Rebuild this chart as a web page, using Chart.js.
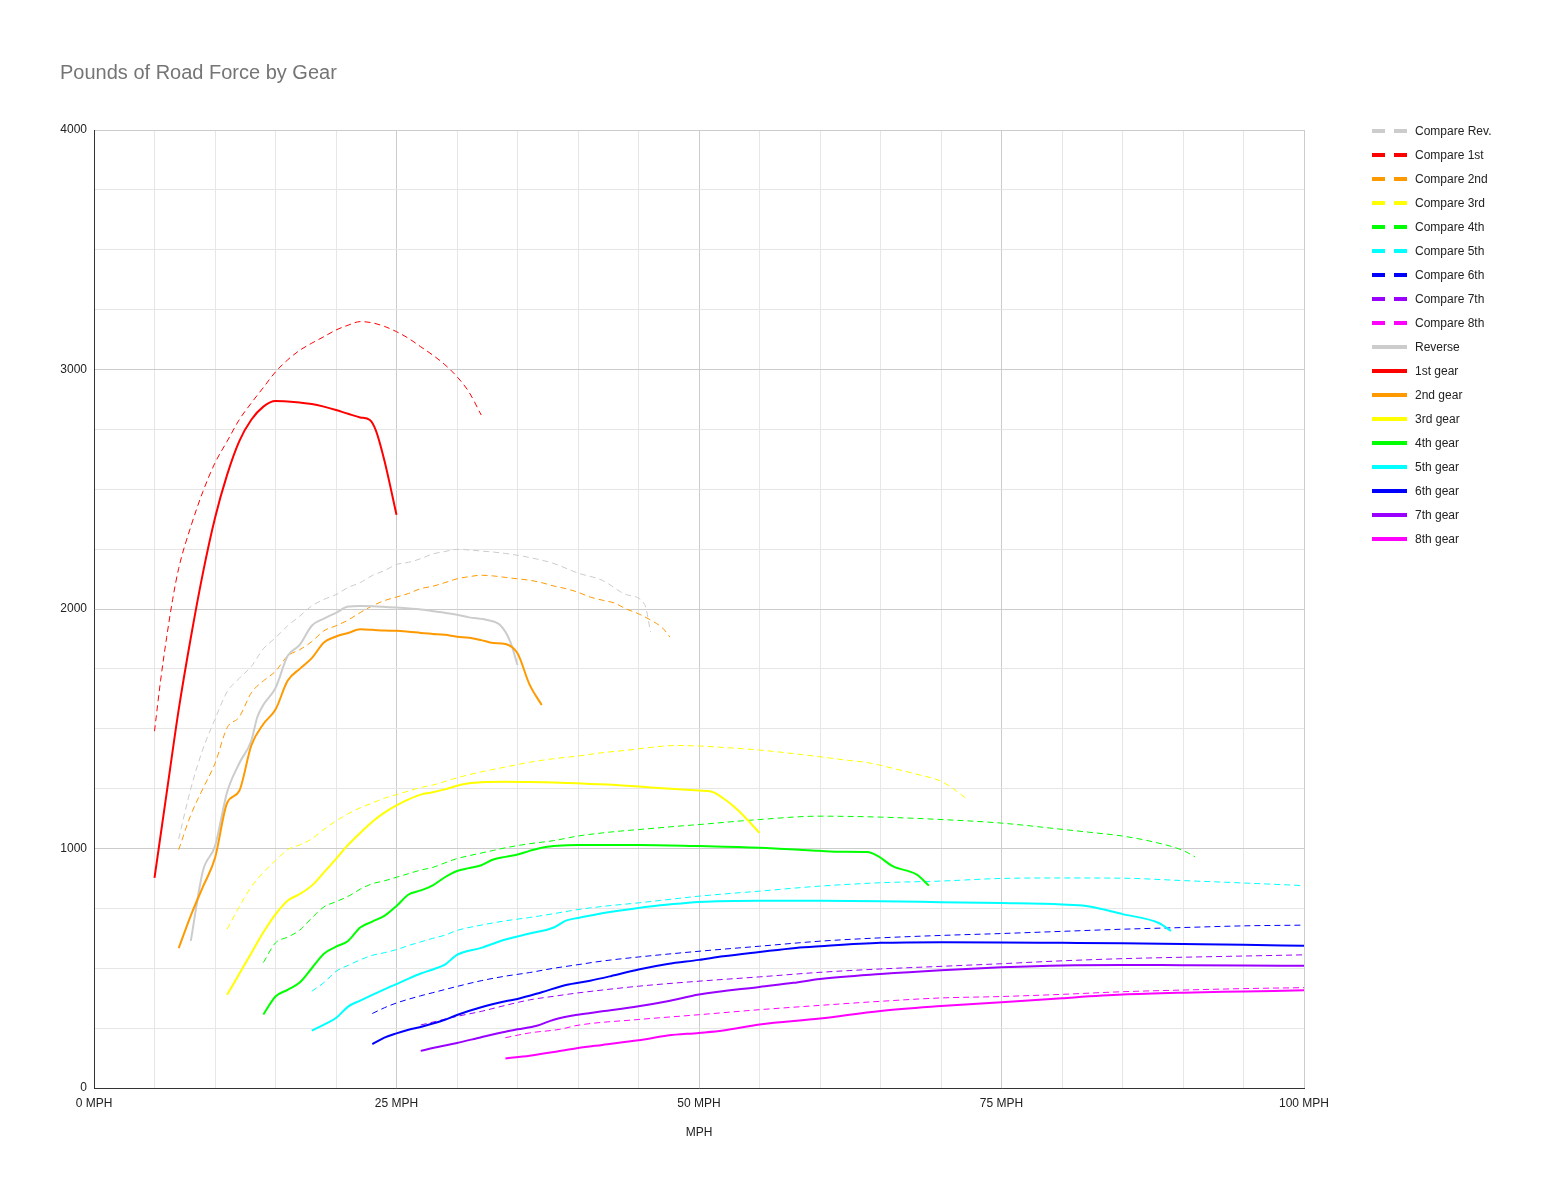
<!DOCTYPE html>
<html>
<head>
<meta charset="utf-8">
<title>Pounds of Road Force by Gear</title>
<script src="https://cdn.jsdelivr.net/npm/chart.js@4/dist/chart.umd.min.js"></script>
<style>
  body { margin: 0; background: #fff; font-family: 'Liberation Sans', Arial, sans-serif; }
  #wrap { position: relative; width: 1554px; height: 1201px; }
  #chart { position: absolute; left: 0; top: 0; }
  #title { position: absolute; left: 60px; top: 61px; font-size: 20px; line-height: 23px; color: #757575; }
  #legend { position: absolute; left: 1372px; top: 119px; font-size: 12px; color: #222; }
  .item { height: 24px; display: flex; align-items: center; white-space: nowrap; }
  .sw { width: 35px; height: 4px; position: relative; margin-right: 8px; }
  .sw span { position: absolute; top: 0; height: 4px; }
</style>
</head>
<body>
<div id="wrap">
  <canvas id="chart" width="1554" height="1201"></canvas>
  <div id="title">Pounds of Road Force by Gear</div>
  <div id="legend"></div>
</div>
<script>
// speeds (MPH) and road force (lbs) per series
const cmpRevMph = [7, 8, 9, 10, 11, 12, 13, 14, 15, 16, 17, 18, 19, 20, 21, 22, 23, 24, 25, 26, 27, 28, 29, 30, 32, 34, 36, 38, 40, 42, 44, 45.5, 46];
const cmpRevLbs = [1040, 1250, 1415, 1540, 1654, 1710, 1760, 1834, 1880, 1930, 1970, 2013, 2040, 2060, 2090, 2110, 2140, 2160, 2186, 2195, 2210, 2230, 2240, 2249, 2242, 2232, 2215, 2190, 2150, 2120, 2060, 2020, 1904];

const cmp1Mph = [5, 5.5, 6, 6.5, 7, 8, 9, 10, 11, 12, 13, 14, 15, 16, 17, 18, 19, 20, 21, 22, 23, 24, 25, 26, 27, 28, 29, 30, 31, 32];
const cmp1Lbs = [1490, 1700, 1880, 2040, 2170, 2344, 2490, 2610, 2700, 2790, 2860, 2925, 2990, 3040, 3080, 3110, 3137, 3165, 3185, 3200, 3195, 3180, 3158, 3130, 3095, 3060, 3020, 2970, 2905, 2810];

const cmp2Mph = [7, 8, 9, 10, 11, 12, 13, 14, 15, 16, 17, 18, 19, 20, 21, 22, 23, 24, 25, 26, 27, 28, 29, 30, 31, 32, 33, 34, 35, 36, 37, 38, 39, 40, 41, 42, 43, 44, 45, 46, 47, 47.6];
const cmp2Lbs = [995, 1140, 1250, 1355, 1504, 1549, 1650, 1700, 1740, 1804, 1830, 1864, 1909, 1930, 1954, 1985, 2013, 2035, 2050, 2065, 2085, 2095, 2110, 2126, 2135, 2141, 2138, 2132, 2126, 2120, 2110, 2096, 2085, 2070, 2050, 2037, 2025, 2000, 1980, 1954, 1920, 1883];

const cmp3Mph = [11, 12, 13, 14, 15, 16, 17, 18, 19, 20, 21, 22, 23, 24, 25, 26, 27, 28, 29, 30, 32, 34, 36, 38, 40, 42, 44, 46, 48, 50, 52, 55, 58, 60, 62, 64, 66, 68, 70, 71, 72];
const cmp3Lbs = [663, 756, 840, 900, 950, 995, 1015, 1040, 1080, 1115, 1145, 1170, 1190, 1210, 1225, 1240, 1255, 1265, 1280, 1295, 1320, 1340, 1360, 1375, 1386, 1400, 1410, 1422, 1430, 1428, 1422, 1411, 1395, 1383, 1370, 1358, 1335, 1310, 1281, 1250, 1212];

const cmp4Mph = [14, 15, 16, 17, 18, 19, 20, 21, 22, 23, 24, 25, 26, 27, 28, 29, 30, 31, 32, 33, 34, 36, 38, 40, 42, 44, 45, 48, 50, 55, 60, 65, 70, 75, 80, 82.6, 85, 87.6, 90, 91];
const cmp4Lbs = [524, 606, 630, 659, 710, 756, 778, 800, 830, 853, 865, 880, 895, 910, 921, 940, 958, 970, 981, 992, 1003, 1020, 1033, 1052, 1065, 1075, 1079, 1092, 1100, 1121, 1135, 1131, 1121, 1106, 1080, 1066, 1052, 1027, 992, 965];

const cmp5Mph = [18, 19, 20, 21, 22, 23, 24, 25, 26, 27, 28, 29, 30, 32, 34, 36, 38, 40, 42, 45, 48, 50, 55, 60, 65, 70, 75, 80, 85, 90, 95, 100];
const cmp5Lbs = [404, 440, 487, 512, 535, 554, 565, 578, 595, 610, 625, 638, 658, 680, 698, 712, 728, 745, 758, 773, 790, 801, 822, 843, 857, 864, 875, 877, 876, 866, 856, 845];

const cmp6Mph = [23, 24, 25, 27, 28, 30, 32, 34, 36, 38, 40, 42, 45, 50, 55, 60, 65, 70, 75, 80, 85, 90, 95, 100];
const cmp6Lbs = [311, 335, 355, 385, 398, 424, 448, 467, 482, 500, 515, 530, 547, 571, 592, 613, 627, 637, 645, 654, 663, 670, 677, 680];

const cmp7Mph = [27, 30, 32, 34, 36, 38, 40, 45, 50, 55, 60, 65, 70, 75, 80, 85, 90, 95, 100];
const cmp7Lbs = [263, 299, 320, 345, 368, 383, 397, 425, 446, 464, 483, 497, 508, 519, 531, 540, 546, 551, 556];

const cmp8Mph = [34, 36, 38.5, 40, 45, 50, 55, 60, 65, 70, 75, 80, 85, 90, 95, 100];
const cmp8Lbs = [210, 230, 245, 262, 286, 306, 327, 345, 362, 376, 382, 391, 402, 409, 415, 419];

const revMph = [8, 9, 10, 11, 12, 13, 13.5, 14, 15, 16, 17, 18, 19, 20, 21, 22, 23, 25, 27, 28.6, 30, 31, 32.5, 33.6, 34.4, 35];
const revLbs = [614, 906, 1010, 1235, 1355, 1450, 1549, 1600, 1670, 1804, 1850, 1930, 1960, 1984, 2010, 2013, 2012, 2006, 1998, 1987, 1976, 1965, 1954, 1931, 1864, 1766];

const g1Mph = [5, 6, 7, 8, 9, 10, 11, 12, 13, 14, 15, 16, 17, 18, 19, 20, 21, 22, 22.8, 23.3, 24, 25];
const g1Lbs = [877, 1230, 1580, 1880, 2150, 2380, 2560, 2700, 2790, 2845, 2868, 2866, 2862, 2856, 2845, 2831, 2815, 2800, 2789, 2745, 2620, 2393];

const g2Mph = [7, 8, 9, 10, 11, 12, 13, 14, 15, 16, 17, 18, 19, 20, 21, 22, 23, 24, 25, 26, 27, 28, 29, 30, 31, 32, 33, 34, 35, 36, 37];
const g2Lbs = [584, 720, 840, 960, 1190, 1240, 1430, 1520, 1580, 1700, 1750, 1795, 1860, 1885, 1900, 1915, 1913, 1910, 1909, 1905, 1900, 1896, 1892, 1884, 1880, 1870, 1858, 1854, 1815, 1684, 1599];

const g3Mph = [11, 12, 13, 14, 15, 16, 17, 18, 19, 20, 21, 22, 23, 24, 25, 26, 27, 28, 29, 30, 31, 32, 34, 36, 38, 40, 42, 44, 46, 48, 50, 51, 52, 53, 54, 55];
const g3Lbs = [389, 476, 563, 650, 725, 782, 810, 845, 900, 957, 1015, 1065, 1112, 1150, 1180, 1205, 1225, 1235, 1247, 1262, 1272, 1277, 1279, 1278, 1276, 1272, 1268, 1262, 1255, 1248, 1242, 1238, 1210, 1170, 1120, 1065];

const g4Mph = [14, 15, 16, 17, 18, 19, 20, 21, 22, 23, 24, 25, 26, 27, 28, 29, 30, 31, 32, 33, 34, 35, 36, 37, 38, 40, 45, 50, 55, 59, 61.6, 63.9, 64.8, 66, 68, 69];
const g4Lbs = [307, 382, 410, 440, 500, 561, 590, 614, 670, 695, 719, 760, 808, 825, 846, 880, 906, 918, 930, 954, 965, 975, 990, 1003, 1010, 1015, 1015, 1010, 1003, 993, 986, 985, 968, 926, 891, 845];

const g5Mph = [18, 19, 20, 21, 22, 23, 24, 25, 26, 27, 28, 29, 30, 32, 34, 36, 38, 39, 40, 42, 45, 47.5, 50, 55, 60, 65, 70, 75, 80, 82, 85, 88, 89];
const g5Lbs = [240, 265, 292, 340, 365, 389, 412, 434, 457, 478, 495, 515, 556, 585, 620, 645, 670, 699, 710, 730, 752, 766, 777, 782, 782, 780, 776, 772, 766, 760, 726, 689, 656];

const g6Mph = [23, 24, 25, 26, 27, 28, 29, 30, 32, 34, 35, 37, 39, 41, 42.7, 45, 47.4, 50, 52, 55, 58, 60, 65, 70, 75, 80, 85, 90, 95, 100];
const g6Lbs = [183, 210, 228, 243, 255, 269, 285, 305, 337, 362, 372, 400, 430, 448, 467, 495, 518, 535, 550, 568, 585, 592, 606, 609, 608, 606, 604, 601, 598, 594];

const g7Mph = [27, 28, 30, 32, 34, 35, 36.6, 38, 40, 42, 45, 47.4, 50, 55, 57.8, 60, 65, 70, 75, 80, 85, 90, 95, 100];
const g7Lbs = [155, 167, 188, 212, 235, 245, 260, 285, 306, 320, 341, 362, 390, 422, 439, 455, 476, 492, 504, 512, 514, 513, 512, 510];

const g8Mph = [34, 36, 38, 40, 42, 45, 47.4, 50, 52, 55, 60, 65, 70, 75, 80, 85, 90, 95, 100];
const g8Lbs = [123, 135, 150, 167, 180, 199, 219, 230, 240, 265, 290, 322, 342, 358, 375, 390, 398, 403, 408];

const seriesNames = ['Compare Rev.', 'Compare 1st', 'Compare 2nd', 'Compare 3rd', 'Compare 4th', 'Compare 5th', 'Compare 6th', 'Compare 7th', 'Compare 8th',
                     'Reverse', '1st gear', '2nd gear', '3rd gear', '4th gear', '5th gear', '6th gear', '7th gear', '8th gear'];
const seriesMph = [cmpRevMph, cmp1Mph, cmp2Mph, cmp3Mph, cmp4Mph, cmp5Mph, cmp6Mph, cmp7Mph, cmp8Mph,
                   revMph, g1Mph, g2Mph, g3Mph, g4Mph, g5Mph, g6Mph, g7Mph, g8Mph];
const seriesLbs = [cmpRevLbs, cmp1Lbs, cmp2Lbs, cmp3Lbs, cmp4Lbs, cmp5Lbs, cmp6Lbs, cmp7Lbs, cmp8Lbs,
                   revLbs, g1Lbs, g2Lbs, g3Lbs, g4Lbs, g5Lbs, g6Lbs, g7Lbs, g8Lbs];
const gearColors = ['#cccccc', '#ff0000', '#ff9900', '#ffff00', '#00ff00', '#00ffff', '#0000ff', '#9900ff', '#ff00ff'];

const datasets = seriesNames.map((name, i) => {
    const dashed = i < 9;
    return {
        label: name,
        data: seriesMph[i].map((x, j) => ({ x: x, y: seriesLbs[i][j] })),
        borderColor: gearColors[i % 9],
        borderWidth: dashed ? 1 : 2,
        borderDash: dashed ? [6, 4] : [],
        pointRadius: 0,
        fill: false,
        cubicInterpolationMode: 'monotone',
        order: 17 - i
    };
});

// legend (drawn as html next to the plot)
const legend = document.getElementById('legend');
datasets.forEach((ds, i) => {
    const row = document.createElement('div');
    row.className = 'item';
    const sw = document.createElement('div');
    sw.className = 'sw';
    if (i < 9) {
        sw.innerHTML = `<span style="left:0;width:13px;background:${ds.borderColor}"></span>` +
                       `<span style="left:22px;width:13px;background:${ds.borderColor}"></span>`;
    } else {
        sw.innerHTML = `<span style="left:0;width:35px;background:${ds.borderColor}"></span>`;
    }
    row.appendChild(sw);
    const txt = document.createElement('span');
    txt.innerText = ds.label;
    row.appendChild(txt);
    legend.appendChild(row);
});

const font = { family: "'Liberation Sans', Arial, sans-serif", size: 12 };

new Chart(document.getElementById('chart').getContext('2d'), {
    type: 'line',
    data: { datasets: datasets },
    options: {
        responsive: false,
        animation: false,
        devicePixelRatio: 1,
        layout: { padding: { top: 130, right: 250, bottom: 61, left: 0 } },
        plugins: { legend: { display: false }, title: { display: false }, tooltip: { enabled: false } },
        scales: {
            x: {
                type: 'linear',
                min: 0, max: 100,
                afterFit: (scale) => { scale.height = 52; },
                ticks: {
                    stepSize: 5, autoSkip: false, maxRotation: 0, padding: 8,
                    color: '#222', font: font,
                    callback: (v) => v % 25 === 0 ? v + ' MPH' : ''
                },
                grid: {
                    drawTicks: false,
                    color: (ctx) => ctx.tick && ctx.tick.value % 25 === 0 ? '#cccccc' : '#e6e6e6'
                },
                border: { color: '#333333', width: 1 },
                title: { display: true, text: 'MPH', color: '#222', font: font, padding: 0 }
            },
            y: {
                min: 0, max: 4000,
                afterFit: (scale) => { scale.width = 94; },
                ticks: {
                    stepSize: 250, autoSkip: false, padding: 7,
                    color: '#222', font: font,
                    callback: (v) => v % 1000 === 0 ? String(v) : ''
                },
                grid: {
                    drawTicks: false,
                    color: (ctx) => ctx.tick && ctx.tick.value % 1000 === 0 ? '#cccccc' : '#e6e6e6'
                },
                border: { color: '#333333', width: 1 }
            }
        }
    }
});
</script>
</body>
</html>
